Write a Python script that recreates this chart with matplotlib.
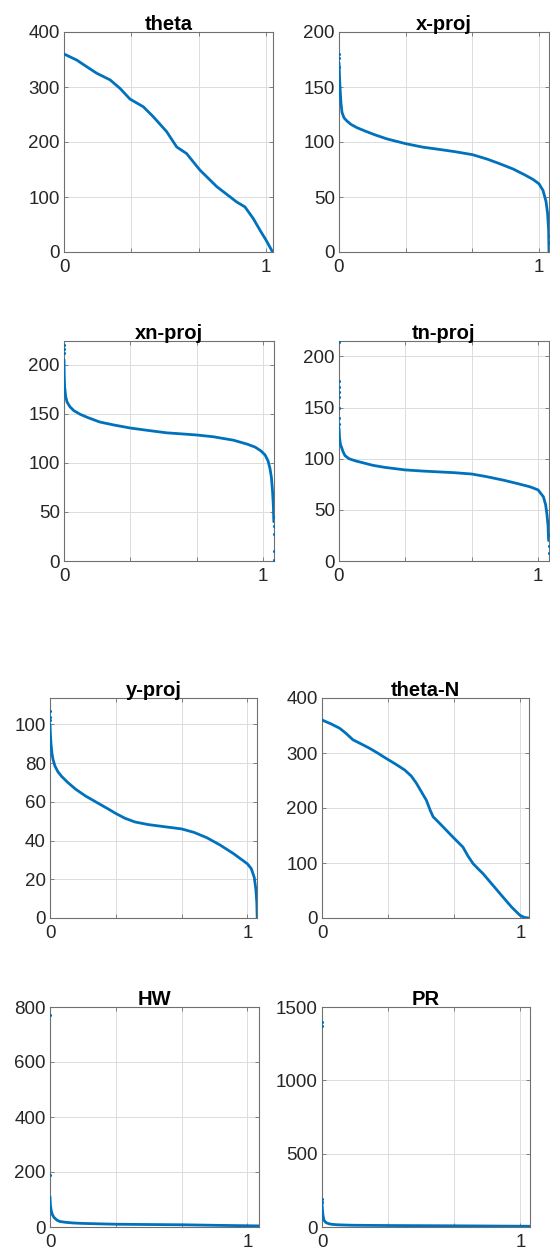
import matplotlib
matplotlib.use("Agg")
import matplotlib.pyplot as plt

# ---------------- data ----------------
titles = ["theta", "x-proj", "xn-proj", "tn-proj", "y-proj", "theta-N", "HW", "PR"]

theta_x = [0.0, 0.063, 0.112, 0.162, 0.228, 0.277, 0.327, 0.393, 0.442, 0.508, 0.558,
           0.607, 0.673, 0.756, 0.855, 0.896, 0.937, 0.970, 1.0, 1.033]
theta_y = [360, 349, 337, 325, 313, 297.6, 278, 264, 246, 219, 191,
           179, 149, 119, 91, 82, 61, 40, 22, 0]

xproj_x = [0.0, 0.002, 0.005, 0.01, 0.015, 0.025, 0.04, 0.06, 0.09, 0.13, 0.18, 0.24,
           0.333, 0.42, 0.5, 0.58, 0.667, 0.74, 0.8, 0.87, 0.93, 0.97, 1.0, 1.02,
           1.035, 1.043, 1.048, 1.05]
xproj_y = [172, 162, 150, 135, 127, 122, 119, 116, 113, 110, 106.5, 102.8,
           98.5, 95.3, 93.3, 91.2, 88.5, 84.5, 80.5, 75.5, 70, 66, 62, 56,
           46, 35, 20, 0]
xproj_ox = [0.0, 0.0, 0.0, 1.05, 1.05]
xproj_oy = [180, 176, 168, 15, 8]

xn_x = [0.0, 0.001, 0.003, 0.008, 0.015, 0.03, 0.05, 0.08, 0.12, 0.18, 0.25, 0.333,
        0.42, 0.516, 0.6, 0.667, 0.75, 0.851, 0.92, 0.96, 0.99, 1.01, 1.025, 1.035,
        1.042, 1.048, 1.052, 1.054]
xn_y = [205, 190, 178, 168, 162, 157, 153, 149.5, 146, 141.5, 138.5, 135.4,
        133, 130.5, 129.3, 128.3, 126.5, 123, 119, 116, 112, 108, 102, 94,
        85, 70, 55, 40]
xn_ox = [0.0, 0.0, 0.0, 1.054, 1.054, 1.054, 1.054, 1.054]
xn_oy = [220, 216, 212, 45, 36, 28, 10, 1]

tn_x = [0.0, 0.003, 0.007, 0.013, 0.02, 0.03, 0.05, 0.08, 0.12, 0.17, 0.23, 0.333,
        0.42, 0.5, 0.58, 0.667, 0.74, 0.826, 0.9, 0.96, 1.0, 1.027, 1.038, 1.045,
        1.05, 1.053]
tn_y = [130, 120, 114, 111, 107, 103, 100, 98, 96, 93.5, 91.5, 89,
        87.9, 87.1, 86.3, 85, 82.5, 79, 75.5, 72.5, 69.5, 62.7, 55, 45,
        35, 20]
tn_ox = [0.0, 0.0, 0.0, 0.0, 0.0, 0.0, 0.0, 0.0, 1.053, 1.053, 1.053]
tn_oy = [214, 176, 170, 165, 160, 150, 140, 134, 25, 15, 8]

yproj_x = [0.0, 0.002, 0.005, 0.01, 0.015, 0.025, 0.04, 0.06, 0.09, 0.13, 0.18, 0.24,
           0.3, 0.333, 0.38, 0.43, 0.5, 0.591, 0.667, 0.73, 0.794, 0.86, 0.929, 0.98,
           1.0, 1.02, 1.035, 1.043, 1.048, 1.05]
yproj_y = [100, 95, 90, 85, 82, 78.5, 75.5, 73, 70, 66.5, 63, 59.5,
           56, 54, 51.5, 49.6, 48.2, 47, 46, 44.2, 41.5, 37.8, 33.3, 29.5,
           28, 25.5, 21, 15, 8, 0]
yproj_ox = [0.0, 0.0, 0.0]
yproj_oy = [107, 104, 102]

thetaN_x = [0.0, 0.045, 0.089, 0.12, 0.156, 0.2, 0.24, 0.28, 0.324, 0.37, 0.417, 0.45,
            0.476, 0.5, 0.526, 0.545, 0.56, 0.585, 0.61, 0.66, 0.71, 0.735, 0.761,
            0.785, 0.811, 0.86, 0.912, 0.955, 0.997, 1.02, 1.043]
thetaN_y = [360, 353, 345, 336, 324, 316, 308.5, 300, 290, 280, 269, 258,
            244.8, 230, 214, 196, 184, 175, 165.7, 147, 129, 113, 99,
            90, 80.8, 60, 38, 20, 5, 1, 0]

hw_x = [0.0, 0.002, 0.006, 0.012, 0.02, 0.035, 0.05, 0.08, 0.12, 0.17, 0.25, 0.34,
        0.5, 0.68, 0.85, 1.059]
hw_y = [110, 80, 60, 45, 35, 25, 20, 17, 14.5, 13, 11.5, 10,
        9, 8, 6, 4]
hw_ox = [0.0, 0.0]
hw_oy = [770, 188]

pr_x = [0.0, 0.002, 0.005, 0.01, 0.02, 0.035, 0.05, 0.08, 0.15, 0.34, 0.68, 1.048]
pr_y = [160, 120, 80, 45, 30, 22, 18, 15, 12, 10, 8, 5]
pr_ox = [0.0, 0.0, 0.0, 0.0]
pr_oy = [1400, 1370, 194, 170]

curves = [(theta_x, theta_y, [], []),
          (xproj_x, xproj_y, xproj_ox, xproj_oy),
          (xn_x, xn_y, xn_ox, xn_oy),
          (tn_x, tn_y, tn_ox, tn_oy),
          (yproj_x, yproj_y, yproj_ox, yproj_oy),
          (thetaN_x, thetaN_y, [], []),
          (hw_x, hw_y, hw_ox, hw_oy),
          (pr_x, pr_y, pr_ox, pr_oy)]

y_ticks = [[0, 100, 200, 300, 400],
           [0, 50, 100, 150, 200],
           [0, 50, 100, 150, 200],
           [0, 50, 100, 150, 200],
           [0, 20, 40, 60, 80, 100],
           [0, 100, 200, 300, 400],
           [0, 200, 400, 600, 800],
           [0, 500, 1000, 1500]]

# ---------------- layout (pixels) ----------------
W, H = 550, 1259
boxes = [(64, 273, 32, 252), (339, 549, 32, 252),
         (64, 274, 341, 561), (339, 549, 341, 561),
         (50, 257, 698, 918), (322, 529, 698, 918),
         (50, 259, 1007, 1227), (322, 530, 1007, 1227)]
x_max = [1.035, 1.05, 1.055, 1.055, 1.049, 1.043, 1.059, 1.048]
y_max = [400, 200, 224, 215, 113.6, 400, 800, 1500]

BLUE = "#0072BD"
TXT = "#262626"
EDGE = "#707070"

plt.rcParams['font.family'] = ['Liberation Sans', 'DejaVu Sans']

fig = plt.figure(figsize=(W / 100, H / 100), dpi=100)
fig.patch.set_facecolor("white")

for i, (l, r, t, b) in enumerate(boxes):
    ax = fig.add_axes([l / W, (H - b) / H, (r - l) / W, (b - t) / H])
    cx, cy, ox, oy = curves[i]
    ax.plot(cx, cy, color=BLUE, lw=2.0, solid_capstyle='round',
            solid_joinstyle='round', zorder=3)
    if ox:
        ax.plot(ox, oy, '.', color=BLUE, ms=2.5, zorder=3)
    ax.set_xlim(0, x_max[i])
    ax.set_ylim(0, y_max[i])
    ax.set_xticks([0, 1 / 3, 2 / 3, 1])
    ax.set_xticklabels(["0", "", "", "1"])
    ax.set_yticks(y_ticks[i])
    ax.set_yticklabels([str(v) for v in y_ticks[i]])
    ax.grid(True, color="#dcdcdc", lw=0.7, zorder=0)
    ax.set_axisbelow(True)
    ax.tick_params(direction='in', length=3, width=0.6, color=EDGE,
                   labelsize=13.5, labelcolor=TXT, top=True, right=True)
    ax.tick_params(axis='x', pad=5)
    ax.tick_params(axis='y', pad=3)
    for s in ax.spines.values():
        s.set_color(EDGE)
        s.set_linewidth(0.8)
    ax.set_title(titles[i], fontsize=14.5, fontweight='bold', color='black', pad=1.5)

fig.savefig("out.png", dpi=100, facecolor="white")
